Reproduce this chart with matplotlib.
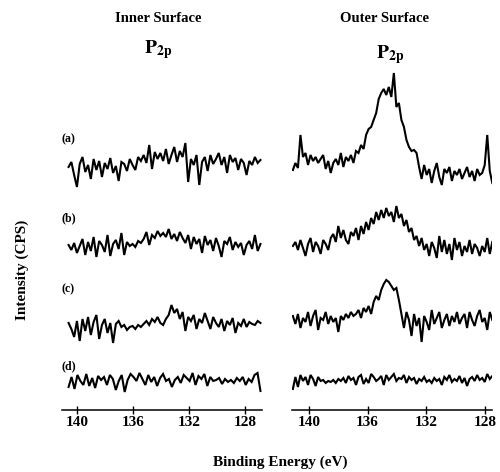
import numpy as np
import matplotlib
matplotlib.use('Agg')
import matplotlib.pyplot as plt

plt.rcParams['font.family'] = ['Liberation Serif', 'DejaVu Serif']
plt.rcParams['mathtext.fontset'] = 'stix'

# traces: deviations (positive = up) plus vertical offsets
inner_a = [0, 5, -8, -20, 3, 10, -5, 2, -12, 8, -3, 6, -10, 4, -2, 9, -6, 1, -14, 5,
           3, -4, 8, 2, -3, 10, 6, 12, 4, 22, -2, 15, 8, 14, 6, 18, 3, 12, 20, 5,
           16, 10, 24, -15, 8, 2, 12, -18, 5, 10, -4, 12, 3, 8, 14, 2, 10, -6, 12, 5,
           9, -3, 8, 4, -8, 6, 2, 10, 4, 7]
inner_b = [2, -3, 4, -6, 1, 8, -8, 5, -4, 10, -10, 6, 2, -5, 12, -9, 3, 7, -2, 14,
           -8, 5, 1, 3, 0, 6, 4, 8, 15, 2, 12, 9, 16, 11, 14, 10, 18, 8, 13, 6,
           15, 9, 4, 12, -2, 10, 3, 8, -6, 11, 2, 7, -4, 9, 1, -10, 6, 3, 10, -3,
           5, 0, 4, -8, 2, 6, -2, 12, -4, 3]
inner_c = [4, -2, -10, 6, -14, 8, -4, 10, -8, 5, 12, -12, 2, 8, -6, 4, -16, 3, 6, 0,
           2, -3, 0, 1, -2, 2, 0, 3, 6, 2, 8, 5, 10, 4, 2, 8, 12, 22, 14, 18,
           8, 15, -4, 10, 6, 12, -2, 8, 4, 14, 6, -2, 10, 4, 0, 8, -4, 6, 2, 9,
           -6, 4, 1, 8, 0, 5, 3, 2, 6, 4]
inner_d = [-4, 6, -6, 8, 2, -2, 9, -3, 5, -5, 7, 3, 6, -2, 8, 4, -7, 2, 8, -9,
           3, 9, 6, 2, 10, 4, -2, 8, 1, 6, -3, 5, 9, 2, 4, -4, 3, 6, 0, 8,
           5, 2, 10, -2, 7, 4, 9, -3, 6, 2, 3, 5, -1, 4, 1, 3, 0, 5, 2, 6,
           -2, 4, 1, 8, 10, -8]

outer_a = [-5, 2, -3, 30, 8, 12, 0, 10, 4, 8, 2, 6, 10, -4, 4, -8, 2,
           6, 0, 12, -2, 8, 4, 10, 2, 14, 12, 20, 16, 30, 36, 38, 45, 52, 66,
           72, 76, 70, 78, 68, 92, 58, 62, 45, 38, 25, 18, 14, 15, 12,
           -2, -14, 0, -10, -4, -18, -6, 2, -12, -20, -4, -8, -2, -16, -6,
           -10, -4, -14, -8, -2, -12, -6, -16, -4, -10, -8, 0, 30, -6, -18]
outer_b = [2, 6, -2, 8, 0, -8, 4, 10, -4, 6, 2, -6, 8, 4, -2, 10,
           14, 6, 22, 10, 18, 8, 4, 16, 12, 20,
           8, 22, 14, 26, 18, 30, 24, 36, 28, 38,
           30, 40, 32, 36, 26, 42, 30, 34, 22, 28,
           16, 20, 8, 12,
           2, 10, -2, 4, -8, 6, 0, -10, 12, -4, 8, -6, 4, -12, 10,
           -2, 6, -8, 2, -4, 8, -6, 4, 0, -8, 2, -4, 10, -6, 6]
outer_c = [6, -2, 8, -6, 4, 0, 10, -4, 6, 12, -8, 4, 2, 10, -2, 6,
           0, 4, -10, 6, 2, 8, 4, 10, 6, 8, 12, 4, 14, 10,
           16, 8, 20, 26, 22, 32, 38, 42,
           40, 36, 32, 34, 22, 8,
           -6, 10, 2, -14, 8, -4, 4, -20, 6, 0, -8, 12, -2, 4, 10, -6, 2, 8,
           -4, 6, 0, 10, -2, 4, 8, -6, 10, 2, -4, 6, 12, 0, 4, -8, 10, 2]
outer_d = [-6, 6, -4, 8, 2, 6, -2, 8, 4, -3, 6, 2, 3, 0, 2, 1, 3, 0, 4, 2,
           5, 0, 7, 3, 5, -2, 6, 8, -1, 4, 0, 9, 6, 2, 4, 7, -2, 8, 3, 6,
           9, 2, 5, 4, 8, 0, 6, 3, 5, -1, 4, 2, 6, 1, 3, 0, 5, 2, 4, -2,
           6, 3, 8, 1, 4, 2, 7, 0, 5, -3, 4, 6, 2, 8, 3, 5, 1, 9, 4, 7]

inner_offsets = [243, 163, 83, 27]
outer_offsets = [245, 162, 88, 27]
ticks = [140, 136, 132, 128]
labels = ['(a)', '(b)', '(c)', '(d)']
label_y = [265, 186, 115, 38]

fig = plt.figure(figsize=(5.0, 4.72), dpi=100)
ax1 = fig.add_axes([0.124, 0.1314, 0.4, 0.7415])
ax2 = fig.add_axes([0.584, 0.1314, 0.4, 0.7415])

panels = [
    (ax1, [inner_a, inner_b, inner_c, inner_d], inner_offsets, (140.6, 126.9), (141.07, 126.79)),
    (ax2, [outer_a, outer_b, outer_c, outer_d], outer_offsets, (141.1, 127.5), (141.16, 127.52)),
]
for ax, traces, offs, span, lim in panels:
    for vals, off in zip(traces, offs):
        e = np.linspace(span[0], span[1], len(vals))
        ax.plot(e, np.array(vals) + off, color='black', lw=1.5, solid_joinstyle='miter')
    ax.set_xlim(*lim)
    ax.set_ylim(0, 350)
    for s in ['top', 'right', 'left']:
        ax.spines[s].set_visible(False)
    ax.spines['bottom'].set_linewidth(1.1)
    ax.set_yticks([])
    ax.set_xticks(ticks)
    ax.set_xticklabels([str(t) for t in ticks], fontsize=11, fontweight='bold')
    ax.tick_params(axis='x', direction='inout', length=6, width=1, pad=1)

for lab, y in zip(labels, label_y):
    ax1.text(-0.005, y, lab, transform=ax1.get_yaxis_transform(), fontsize=8.5,
             fontweight='bold', ha='left', va='bottom')

fig.text(158 / 500, 1 - 18 / 472, 'Inner Surface', ha='center', va='center',
         fontsize=10.5, fontweight='bold')
fig.text(385 / 500, 1 - 18 / 472, 'Outer Surface', ha='center', va='center',
         fontsize=10.5, fontweight='bold')
fig.text(158 / 500, 1 - 50 / 472, r'$\mathbf{P_{2p}}$', ha='center', va='center', fontsize=14)
fig.text(390 / 500, 1 - 55 / 472, r'$\mathbf{P_{2p}}$', ha='center', va='center', fontsize=14)
fig.text(280 / 500, 1 - 462 / 472, 'Binding Energy (eV)', ha='center', va='center',
         fontsize=11, fontweight='bold')
fig.text(22 / 500, 1 - 270 / 472, 'Intensity (CPS)', ha='center', va='center',
         rotation=90, fontsize=11, fontweight='bold')

fig.savefig('out.png', dpi=100)
